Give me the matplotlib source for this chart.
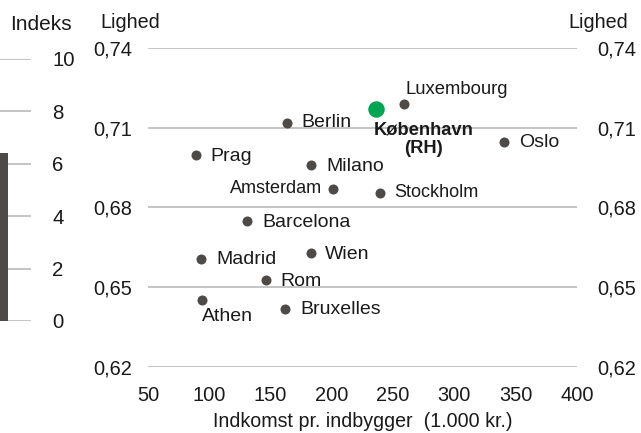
import matplotlib
matplotlib.use("Agg")
import matplotlib.pyplot as plt
import matplotlib.transforms as mtrans

plt.rcParams['font.family'] = ['Liberation Sans', 'DejaVu Sans']

# ---- data ----
cities = ["Berlin", "Prag", "Milano", "Amsterdam", "Stockholm", "Barcelona",
          "Madrid", "Wien", "Rom", "Athen", "Bruxelles", "Luxembourg", "Oslo"]
income = [163.2, 89.2, 183.0, 201.2, 239.3, 130.8, 93.2, 183.0, 146.3, 93.8, 161.8, 258.6, 340.7]
equality = [0.7118, 0.6998, 0.6958, 0.6868, 0.6855, 0.6748, 0.6608, 0.6629, 0.6529,
            0.6451, 0.6420, 0.7189, 0.7048]
cph_label = "København\n(RH)"
cph_income = 236.0
cph_equality = 0.717

x_ticks = [50, 100, 150, 200, 250, 300, 350, 400]
y_ticks = [0.62, 0.65, 0.68, 0.71, 0.74]
y_ticklabels = ["0,62", "0,65", "0,68", "0,71", "0,74"]

left_index_value = [6.4]
left_ticks = [0, 2, 4, 6, 8, 10]

# ---- layout / style (not data) ----
W, H = 641, 433
DOT = "#4E4A47"
GREEN = "#00A651"
GRID = "#BFBFBF"
TXT = "#1A1A1A"

# label offsets in pixels (dx, dy with dy up), alignment, size
label_style = {
    "Berlin": (15, 0, "left", "center", 14),
    "Prag": (14, -2, "left", "center", 14),
    "Milano": (15, -1.5, "left", "center", 14),
    "Amsterdam": (-11, 0.5, "right", "center", 13),
    "Stockholm": (14, 0.5, "left", "center", 13),
    "Barcelona": (15, -1.5, "left", "center", 14),
    "Madrid": (15, -0.5, "left", "center", 14),
    "Wien": (14, -1.5, "left", "center", 14),
    "Rom": (14, -1.5, "left", "center", 14),
    "Athen": (0, -16.5, "left", "center", 14),
    "Bruxelles": (15, -1, "left", "center", 14),
    "Luxembourg": (2, 15, "left", "center", 13.3),
    "Oslo": (15, -1.3, "left", "center", 14),
}


def fx(px):
    return px / W


def fy(py):
    return 1 - py / H


fig = plt.figure(figsize=(W / 100, H / 100), dpi=100)

# ---- main scatter axes ----
ax_l, ax_r, ax_t, ax_b = 148, 577, 48, 367
ax = fig.add_axes([fx(ax_l), fy(ax_b), fx(ax_r - ax_l), (ax_b - ax_t) / H])
ax.set_xlim(x_ticks[0], x_ticks[-1])
ax.set_ylim(y_ticks[0], y_ticks[-1])
for s in ax.spines.values():
    s.set_visible(False)
ax.set_yticks(y_ticks)
ax.set_yticklabels(y_ticklabels)
ax.set_xticks(x_ticks)
ax.set_xticklabels([str(v) for v in x_ticks])
ax.tick_params(axis="both", length=0, labelsize=14.4, colors=TXT)
ax.tick_params(axis="y", pad=11.3, labelleft=True, labelright=True)
ax.tick_params(axis="x", pad=13.5)
ax.grid(axis="y", color=GRID, linewidth=1.3)
ax.grid(axis="x", visible=False)
ax.set_axisbelow(True)
for t in ax.yaxis.get_major_ticks():
    t.label2.set_transform(t.label2.get_transform() + mtrans.ScaledTranslation(5 / 100, 0, fig.dpi_scale_trans))

ax.set_xlabel("Indkomst pr. indbygger  (1.000 kr.)", fontsize=14.1, color=TXT, labelpad=5)

ax.scatter(income, equality, s=52, color=DOT, zorder=3, linewidths=0)
ax.scatter([cph_income], [cph_equality], s=140, color=GREEN, zorder=4, linewidths=0)

for name, xv, yv in zip(cities, income, equality):
    dx, dy, ha, va, fs = label_style[name]
    ax.annotate(name, (xv, yv), xytext=(dx, dy), textcoords="offset pixels",
                ha=ha, va=va, fontsize=fs, color=TXT)
ax.annotate(cph_label, (cph_income, cph_equality), xytext=(48, -30), textcoords="offset pixels",
            ha="center", va="center", fontsize=13.2, fontweight="bold", color=TXT,
            linespacing=1.1)

fig.text(fx(130), fy(22), "Lighed", ha="center", va="center", fontsize=14.2, color=TXT)
fig.text(fx(598), fy(22), "Lighed", ha="center", va="center", fontsize=14.2, color=TXT)

# ---- fragment of neighbouring chart on the left ----
lx_r, lt, lb = 30.6, 59, 321
ax2 = fig.add_axes([0, fy(lb), fx(lx_r), (lb - lt) / H])
ax2.set_xlim(0, 1)
ax2.set_ylim(left_ticks[0], left_ticks[-1])
for s in ax2.spines.values():
    s.set_visible(False)
ax2.set_xticks([])
ax2.set_yticks(left_ticks)
ax2.set_yticklabels([str(v) for v in left_ticks])
ax2.yaxis.tick_right()
ax2.tick_params(axis="y", length=0, pad=15.5, labelsize=14.7, colors=TXT)
ax2.grid(axis="y", color=GRID, linewidth=1.3)
ax2.set_axisbelow(True)
ax2.bar([0], left_index_value, width=0.26, align="edge", color=DOT, zorder=3)
fig.text(fx(41), fy(25), "Indeks", ha="center", va="center", fontsize=15, color=TXT)

fig.savefig("out.png", dpi=100)
